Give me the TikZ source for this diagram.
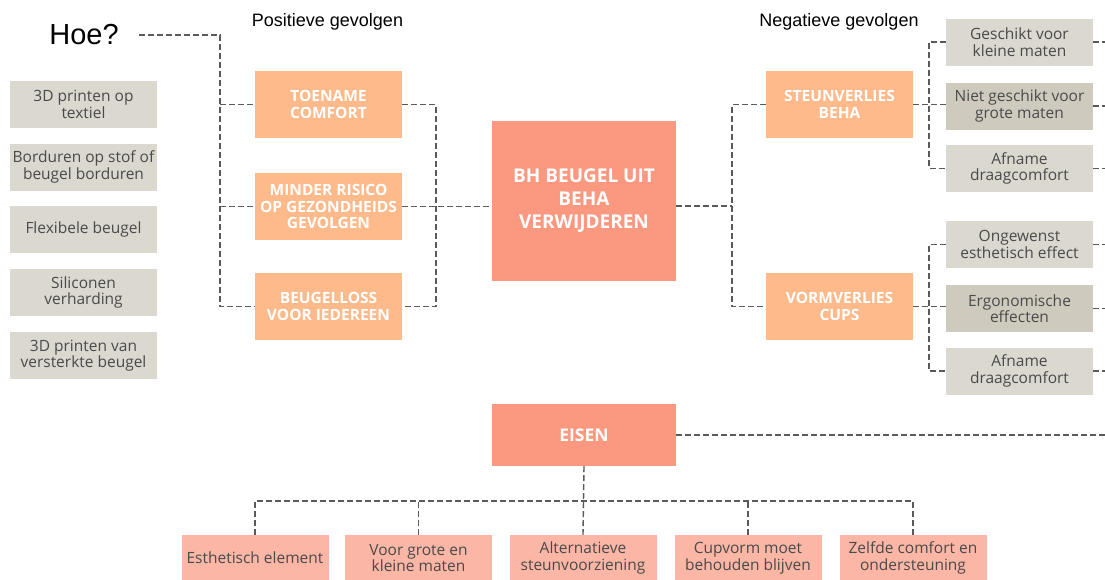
\documentclass[tikz,border=0pt]{standalone}
\usepackage{fontspec}
\setmainfont{Open Sans}
\newfontfamily\headfont{Liberation Sans}
\usetikzlibrary{calc}
\definecolor{orng}{HTML}{FFBA8B}
\definecolor{slmn}{HTML}{FA9880}
\definecolor{pnk}{HTML}{FBB6A6}
\definecolor{gry}{HTML}{DAD8CF}
\definecolor{dgry}{HTML}{CECBBE}
\definecolor{txtg}{HTML}{4A4A4A}
\definecolor{lineg}{HTML}{5A5A5A}
\tikzset{
  gbox/.style={fill=gry, minimum width=147pt, minimum height=47pt, inner sep=0pt, text=txtg, align=center, font=\fontsize{15.5}{16.5}\selectfont},
  obox/.style={fill=orng, minimum width=147pt, minimum height=67pt, inner sep=0pt, text=white, align=center, font=\fontsize{15.5}{16.5}\selectfont\bfseries},
  cbox/.style={fill=slmn, inner sep=0pt, text=white, align=center},
  pbox/.style={fill=pnk, minimum width=147pt, minimum height=46pt, inner sep=0pt, text=txtg, align=center, font=\fontsize{15.5}{16.5}\selectfont},
  conn/.style={draw=lineg, line width=1.4pt, dash pattern=on 6pt off 3pt},
  headtxt/.style={inner sep=0pt, text=black, font=\headfont\fontsize{18}{20}\selectfont}
}
\begin{document}
\begin{tikzpicture}[x=1pt,y=-1pt]
\useasboundingbox (0,0) rectangle (1105,579);
% texts
\node[inner sep=0pt, font=\headfont\fontsize{29}{32}\selectfont] (hoe) at (84,35) {Hoe?};
\node[headtxt] (pos) at (327.5,22) {Positieve gevolgen};
\node[headtxt] (neg) at (839,22) {Negatieve gevolgen};
% left grey
\node[gbox] (l1) at (83.5,104.5) {3D printen op\\textiel};
\node[gbox] (l2) at (83.5,167) {Borduren op stof of\\beugel borduren};
\node[gbox] (l3) at (83.5,229.5) {Flexibele beugel};
\node[gbox] (l4) at (83.5,292.5) {Siliconen\\verharding};
\node[gbox] (l5) at (83.5,355.5) {3D printen van\\versterkte beugel};
% positive
\node[obox] (toe) at (328.5,104.5) {TOENAME\\COMFORT};
\node[obox] (min) at (328.5,206.5) {MINDER RISICO\\OP GEZONDHEIDS\\GEVOLGEN};
\node[obox] (beu) at (328.5,306.5) {BEUGELLOSS\\VOOR IEDEREEN};
% center
\node[cbox, minimum width=184pt, minimum height=160pt, font=\fontsize{19}{23}\selectfont\bfseries] (ctr) at (584,201) {BH BEUGEL UIT\\BEHA\\VERWIJDEREN};
\node[cbox, minimum width=184pt, minimum height=62pt, font=\fontsize{17.5}{19}\selectfont\bfseries] (eis) at (584,435) {EISEN};
% negative
\node[obox] (steun) at (839.5,104.5) {STEUNVERLIES\\BEHA};
\node[obox] (vorm) at (839.5,306.5) {VORMVERLIES\\CUPS};
\node[gbox] (g1) at (1019.5,42) {Geschikt voor\\kleine maten};
\node[gbox, fill=dgry] (g2) at (1019.5,106) {Niet geschikt voor\\grote maten};
\node[gbox] (g3) at (1019.5,168.5) {Afname\\draagcomfort};
\node[gbox] (g4) at (1019.5,244.5) {Ongewenst\\esthetisch effect};
\node[gbox, fill=dgry] (g5) at (1019.5,308.5) {Ergonomische\\effecten};
\node[gbox] (g6) at (1019.5,371) {Afname\\draagcomfort};
% bottom
\node[pbox] (b1) at (255,558) {Esthetisch element};
\node[pbox] (b2) at (418.5,558) {Voor grote en\\kleine maten};
\node[pbox] (b3) at (583,558) {Alternatieve\\steunvoorziening};
\node[pbox] (b4) at (748,558) {Cupvorm moet\\behouden blijven};
\node[pbox] (b5) at (913,558) {Zelfde comfort en\\ondersteuning};
% coordinates
\coordinate (edge) at (1105,0);
\coordinate (lv) at (220,0);
\coordinate (pv) at (436,0);
\coordinate (rj) at (732,206);
\coordinate (nv) at (929,0);
\coordinate (bj) at (584,501);
% left tree
\draw[conn] ([xshift=20pt]hoe.east) -| (lv |- beu.west) -- (beu.west);
\draw[conn] (lv |- toe.west) -- (toe.west);
\draw[conn] (lv |- min.west) -- (min.west);
\draw[conn] (toe.east) -| (pv |- beu.east) -- (beu.east);
\draw[conn] (min.east) -- (min.east -| ctr.west);
% right tree
\draw[conn] (ctr.east |- rj) -- (rj);
\draw[conn] (steun.west) -| (rj) |- (vorm.west);
\draw[conn] (steun.east) -- (steun.east -| g2.west);
\draw[conn] (g1.west) -| (nv |- g3.west) -- (g3.west);
\draw[conn] (vorm.east) -- (vorm.east -| g5.west);
\draw[conn] (g4.west) -| (nv |- g6.west) -- (g6.west);
\foreach \g in {g1,g2,g3,g4,g5,g6} {\draw[conn] (\g.east) -- (\g.east -| edge);}
% eisen
\draw[conn] (eis.east) -- (eis.east -| edge);
\draw[conn] (eis.south) -- (b3.north);
\draw[conn] (b1.north) |- (bj) -| (b5.north);
\draw[conn] (b2.north) -- (b2.north |- bj);
\draw[conn] (b4.north) -- (b4.north |- bj);
\end{tikzpicture}
\end{document}
